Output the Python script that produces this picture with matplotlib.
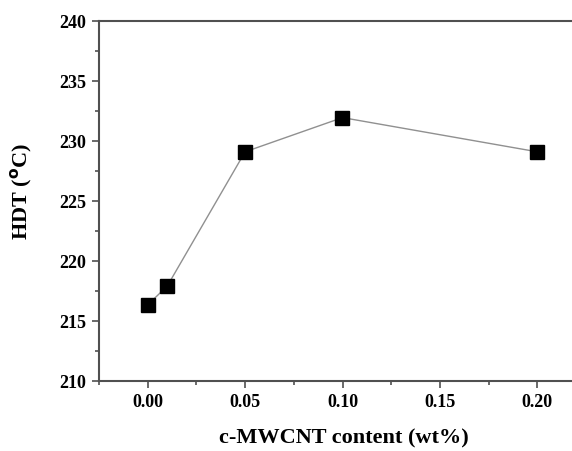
import numpy as np
import matplotlib
matplotlib.use("Agg")
from matplotlib import pyplot as plt
from matplotlib.ticker import MultipleLocator

# data
content = [0.00, 0.01, 0.05, 0.10, 0.20]
hdt = [216.35, 217.9, 229.1, 231.95, 229.1]

plt.rcParams['font.family'] = ['Liberation Serif', 'DejaVu Serif']
plt.rcParams['font.weight'] = 'bold'

fig = plt.figure(figsize=(5.72, 4.52), dpi=100)
ax = fig.add_axes([99 / 572, 1 - 382 / 452, (586 - 99) / 572, (382 - 22) / 452])

ax.plot(content, hdt, color='#909090', linewidth=1.0, zorder=1)
ax.plot(content, hdt, linestyle='none', marker='s', markersize=10,
        markerfacecolor='black', markeredgecolor='black', zorder=2)

ax.set_xlim(-0.025, 0.225)
ax.set_ylim(210, 240)
ax.xaxis.set_major_locator(MultipleLocator(0.05))
ax.xaxis.set_minor_locator(MultipleLocator(0.025))
ax.yaxis.set_major_locator(MultipleLocator(5))
ax.yaxis.set_minor_locator(MultipleLocator(2.5))
ax.xaxis.set_major_formatter(plt.FormatStrFormatter('%.2f'))

ax.spines['right'].set_visible(False)
for s in ['left', 'bottom', 'top']:
    ax.spines[s].set_linewidth(1.5)
    ax.spines[s].set_color('#505050')

ax.tick_params(which='both', direction='out', top=False, right=False,
               color='#505050', width=1.2)
ax.tick_params(which='major', length=5, labelsize=13, pad=4)
ax.tick_params(which='minor', length=3)

ax.set_xlabel('c-MWCNT content (wt%)', fontsize=16, fontweight='bold')
ax.set_ylabel(r'HDT ($^{\rm o}$C)', fontsize=16, fontweight='bold')
ax.xaxis.set_label_coords(0.503, -0.13)
ax.yaxis.set_label_coords(-0.131, 0.53)

fig.savefig('out.png', dpi=100)
